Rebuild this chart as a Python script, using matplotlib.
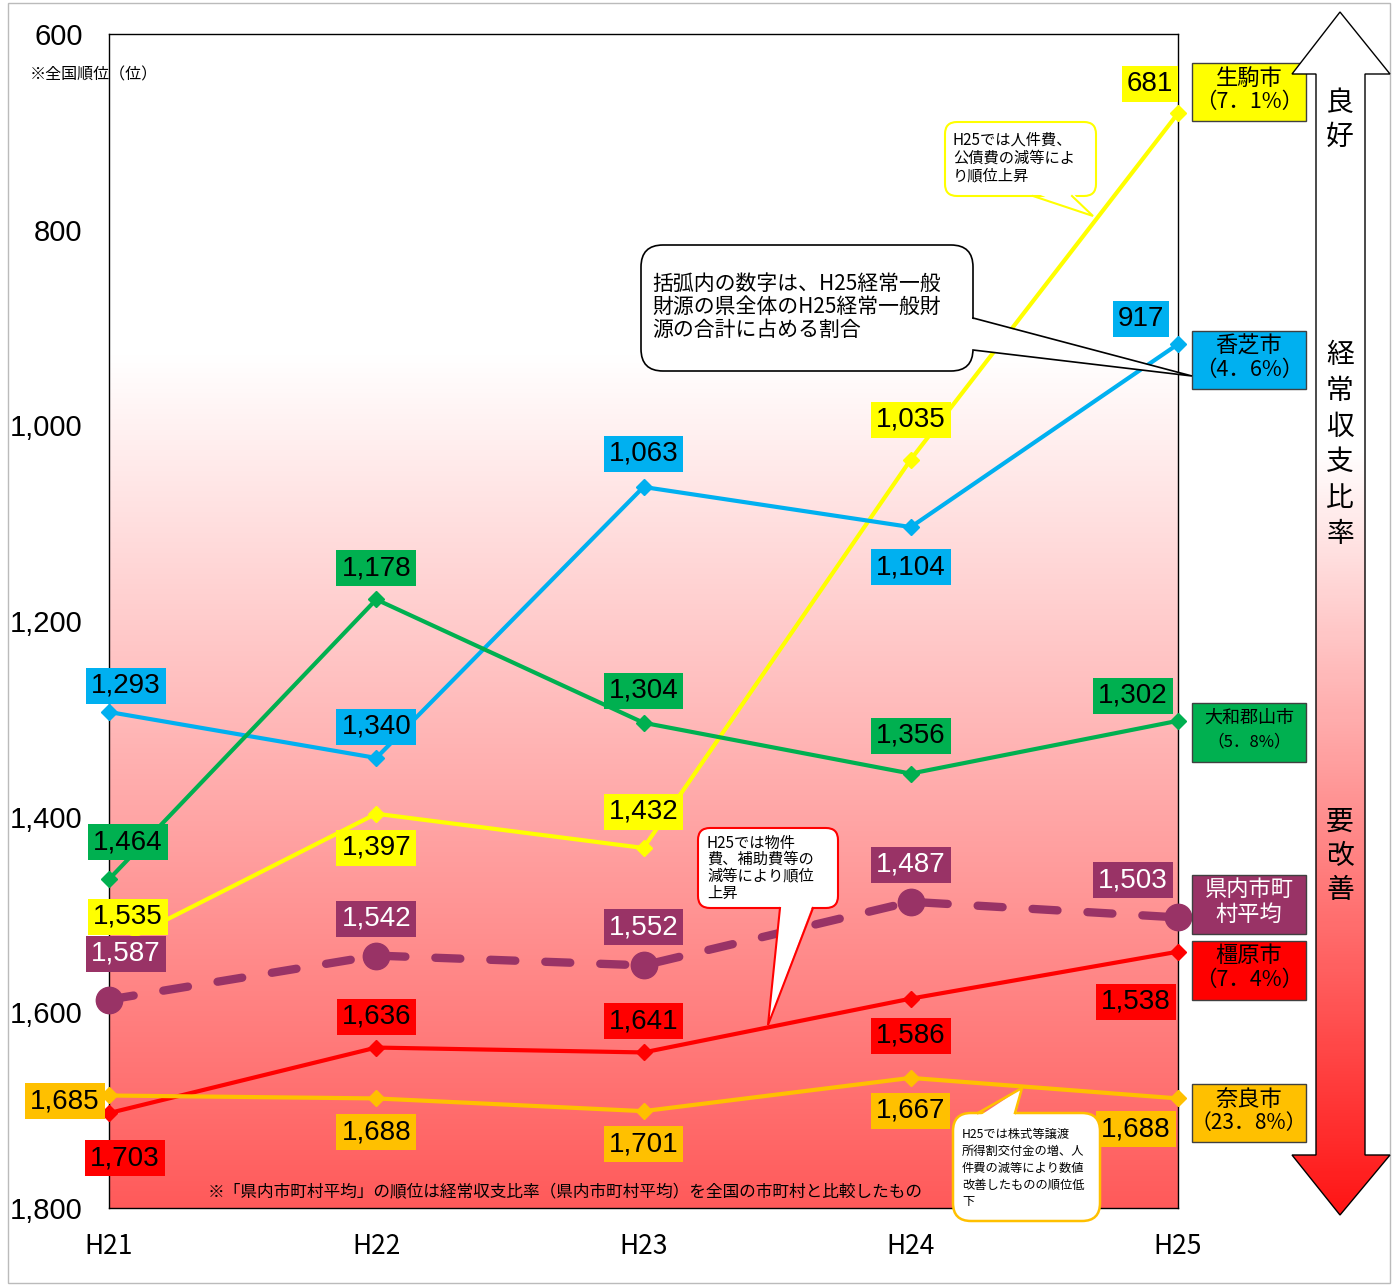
import numpy as np
import matplotlib
matplotlib.use('Agg')
import matplotlib.pyplot as plt
from matplotlib import font_manager
from matplotlib.patches import FancyBboxPatch, Polygon, Rectangle
from matplotlib.lines import Line2D

plt.rcParams['font.family'] = ['Noto Sans CJK JP', 'DejaVu Sans']
names = {f.name for f in font_manager.fontManager.ttflist}
NUM_FONT = 'Liberation Sans Narrow' if 'Liberation Sans Narrow' in names else 'Liberation Sans'

# data
years = ['H21', 'H22', 'H23', 'H24', 'H25']
ikoma = [1535, 1397, 1432, 1035, 681]
kashiba = [1293, 1340, 1063, 1104, 917]
yamatokoriyama = [1464, 1178, 1304, 1356, 1302]
ken_avg = [1587, 1542, 1552, 1487, 1503]
kashihara = [1703, 1636, 1641, 1586, 1538]
nara = [1685, 1688, 1701, 1667, 1688]
yticks = [600, 800, 1000, 1200, 1400, 1600, 1800]

W, H = 1398, 1285
fig = plt.figure(figsize=(W / 100, H / 100), dpi=100)
fig.patch.set_facecolor('white')

ax = fig.add_axes([109 / W, 1 - 1208 / H, (1178 - 109) / W, (1208 - 34) / H])
x = np.arange(len(years))

# background gradient (white at top -> red at bottom)
vals = np.linspace(600, 1800, 400)
g = np.clip(255 - (vals - 930) / (1800 - 930) * 165, 90, 255) / 255
grad = np.stack([np.ones_like(g), g, g], axis=1)[:, None, :]
ax.imshow(grad, extent=(0, 4, 1800, 600), aspect='auto', origin='upper', zorder=0)
ax.set_xlim(0, 4)
ax.set_ylim(1800, 600)

ax.set_xticks(x)
ax.set_xticklabels(years, fontsize=19)
ax.set_yticks(yticks)
ax.set_yticklabels([f'{v:,}' for v in yticks], fontsize=21, family='Liberation Sans')
ax.tick_params(length=0)
ax.tick_params(axis='y', pad=19)
ax.tick_params(axis='x', pad=18)
for s in ax.spines.values():
    s.set_linewidth(1)
    s.set_color('black')

series = [
    (ikoma, '#FFFF00'),
    (kashiba, '#00B0F0'),
    (yamatokoriyama, '#00B050'),
    (kashihara, '#FF0000'),
    (nara, '#FFC000'),
]
for ys, c in series:
    ax.plot(x, ys, color=c, lw=3, marker='D', ms=8, zorder=4, clip_on=False)
ax.plot(x, ken_avg, color='#993366', lw=6, ls=(0, (3.0, 3.6)), dash_capstyle='round',
        marker='o', ms=19, zorder=3, clip_on=False)

# label offsets in pixels (dx right, dy down)
offsets = {
    'ikoma': [(19, -32), (0, 34), (0, -36), (0, -40), (-28, -29)],
    'kashiba': [(17, -26), (0, -31), (0, -33), (0, 40), (-37, -25)],
    'yamato': [(19, -37), (0, -31), (0, -32), (0, -38), (-45, -25)],
    'avg': [(17, -46), (0, -37), (0, -38), (0, -37), (-45, -37)],
    'kashihara': [(16, 45), (0, -31), (0, -31), (0, 37), (-42, 50)],
    'nara': [(-44, 6), (0, 34), (0, 33), (0, 33), (-42, 31)],
}
lab = [
    (ikoma, '#FFFF00', 'black', 'ikoma'),
    (kashiba, '#00B0F0', 'black', 'kashiba'),
    (yamatokoriyama, '#00B050', 'black', 'yamato'),
    (ken_avg, '#993366', 'white', 'avg'),
    (kashihara, '#FF0000', 'black', 'kashihara'),
    (nara, '#FFC000', 'black', 'nara'),
]
for ys, fc, tc, key in lab:
    for i, v in enumerate(ys):
        dx, dy = offsets[key][i]
        ax.annotate(f'{v:,}', xy=(i, v), xytext=(dx, -dy), textcoords='offset pixels',
                    ha='center', va='center', fontsize=20, family=NUM_FONT, color=tc,
                    bbox=dict(boxstyle='square,pad=0.18', fc=fc, ec='none'),
                    annotation_clip=False, zorder=6)

ax.text(0.427, 0.013, '※「県内市町村平均」の順位は経常収支比率（県内市町村平均）を全国の市町村と比較したもの',
        transform=ax.transAxes, ha='center', va='center', fontsize=12, zorder=7)

# overlay in pixel coordinates
ov = fig.add_axes([0, 0, 1, 1], zorder=5)
ov.patch.set_alpha(0)
ov.axis('off')

ov.add_patch(Rectangle((8, 3), 1382, 1280, fill=False, ec='#BBBBBB', lw=1))
ov.text(30, 75, '※全国順位（位）', fontsize=11.5, va='center', ha='left')


def callout(x0, y0, x1, y1, b1, tip, b2, ec, lw, lines, tx, ty, dy, fs, r=12, inset=(0, 0)):
    ov.add_patch(FancyBboxPatch((x0, y0), x1 - x0, y1 - y0,
                                boxstyle=f'round,pad=0,rounding_size={r}',
                                fc='white', ec=ec, lw=lw, zorder=2))
    ix, iy = inset
    ov.add_patch(Polygon([(b1[0] + ix, b1[1] + iy), tip, (b2[0] + ix, b2[1] + iy)],
                         closed=True, fc='white', ec='none', zorder=3))
    ov.add_line(Line2D([b1[0], tip[0], b2[0]], [b1[1], tip[1], b2[1]], color=ec, lw=lw,
                       zorder=4, solid_joinstyle='miter'))
    for k, t in enumerate(lines):
        ov.text(tx, ty + k * dy, t, fontsize=fs, va='center', ha='left', zorder=5)


callout(945, 122, 1096, 196, (1033, 196), (1093, 216), (1072, 196), '#FFFF00', 1.5,
        ['H25では人件費、', '公債費の減等によ', 'り順位上昇'], 953, 140, 18, 11, inset=(0, -4))
callout(641, 245, 973, 371, (973, 318), (1192, 376), (973, 350), 'black', 1.2,
        ['括弧内の数字は、H25経常一般', '財源の県全体のH25経常一般財', '源の合計に占める割合'],
        652, 284, 23, 15, r=22, inset=(-4, 0))
callout(698, 828, 838, 908, (780, 908), (768, 1025), (813, 908), '#FF0000', 1.5,
        ['H25では物件', '費、補助費等の', '減等により順位', '上昇'], 707, 843, 16.7, 11, inset=(0, -4))
callout(953, 1113, 1100, 1221, (978, 1113), (1022, 1088), (1015, 1113), '#FFC000', 1.8,
        ['H25では株式等譲渡', '所得割交付金の増、人', '件費の減等により数値', '改善したものの順位低', '下'],
        962, 1134, 17, 8.8, r=18, inset=(0, 4))

# right legend boxes
boxes = [
    (63, 121, '#FFFF00', 'black', ['生駒市', '（7．1%）'], [16, 15.5]),
    (331, 389, '#00B0F0', 'black', ['香芝市', '（4．6%）'], [16, 15.5]),
    (703, 762, '#00B050', 'black', ['大和郡山市', '（5．8%）'], [13, 12]),
    (875, 934, '#993366', 'white', ['県内市町', '村平均'], [16, 16]),
    (941, 1000, '#FF0000', 'black', ['橿原市', '（7．4%）'], [16, 15.5]),
    (1084, 1142, '#FFC000', 'black', ['奈良市', '（23．8%）'], [16, 15]),
]
for y0, y1, fc, tc, txt, fss in boxes:
    ov.add_patch(Rectangle((1192, y0), 114, y1 - y0, fc=fc, ec='#404040', lw=1, zorder=2))
    ov.text(1249, y0 + 15, txt[0], color=tc, fontsize=fss[0], ha='center', va='center', zorder=3)
    ov.text(1249, y0 + 39, txt[1], color=tc, fontsize=fss[1], ha='center', va='center', zorder=3)

# double arrow with gradient
arrow_pts = [(1340, 12), (1390, 74), (1365, 74), (1365, 1155), (1390, 1155), (1340, 1215),
             (1292, 1155), (1316, 1155), (1316, 74), (1292, 74)]
poly = Polygon(arrow_pts, closed=True, fc='none', ec='black', lw=1, zorder=8)
ov.add_patch(poly)
yy = np.linspace(10, 1216, 400)
ga = np.clip(255 - (yy - 450) / (1216 - 450) * 235, 20, 255) / 255
agrad = np.stack([np.ones_like(ga), ga, ga], axis=1)[:, None, :]
im = ov.imshow(agrad, extent=(1290, 1392, 1216, 10), aspect='auto', origin='upper', zorder=7)
im.set_clip_path(poly)

for k, ch in enumerate('良好'):
    ov.text(1340, 103 + k * 34, ch, fontsize=20, ha='center', va='center', zorder=9)
for k, ch in enumerate('経常収支比率'):
    ov.text(1340, 355 + k * 35.8, ch, fontsize=20, ha='center', va='center', zorder=9)
for k, ch in enumerate('要改善'):
    ov.text(1340, 822 + k * 34, ch, fontsize=20, ha='center', va='center', zorder=9)

ov.set_xlim(0, W)
ov.set_ylim(H, 0)

fig.savefig('out.png', dpi=100)
